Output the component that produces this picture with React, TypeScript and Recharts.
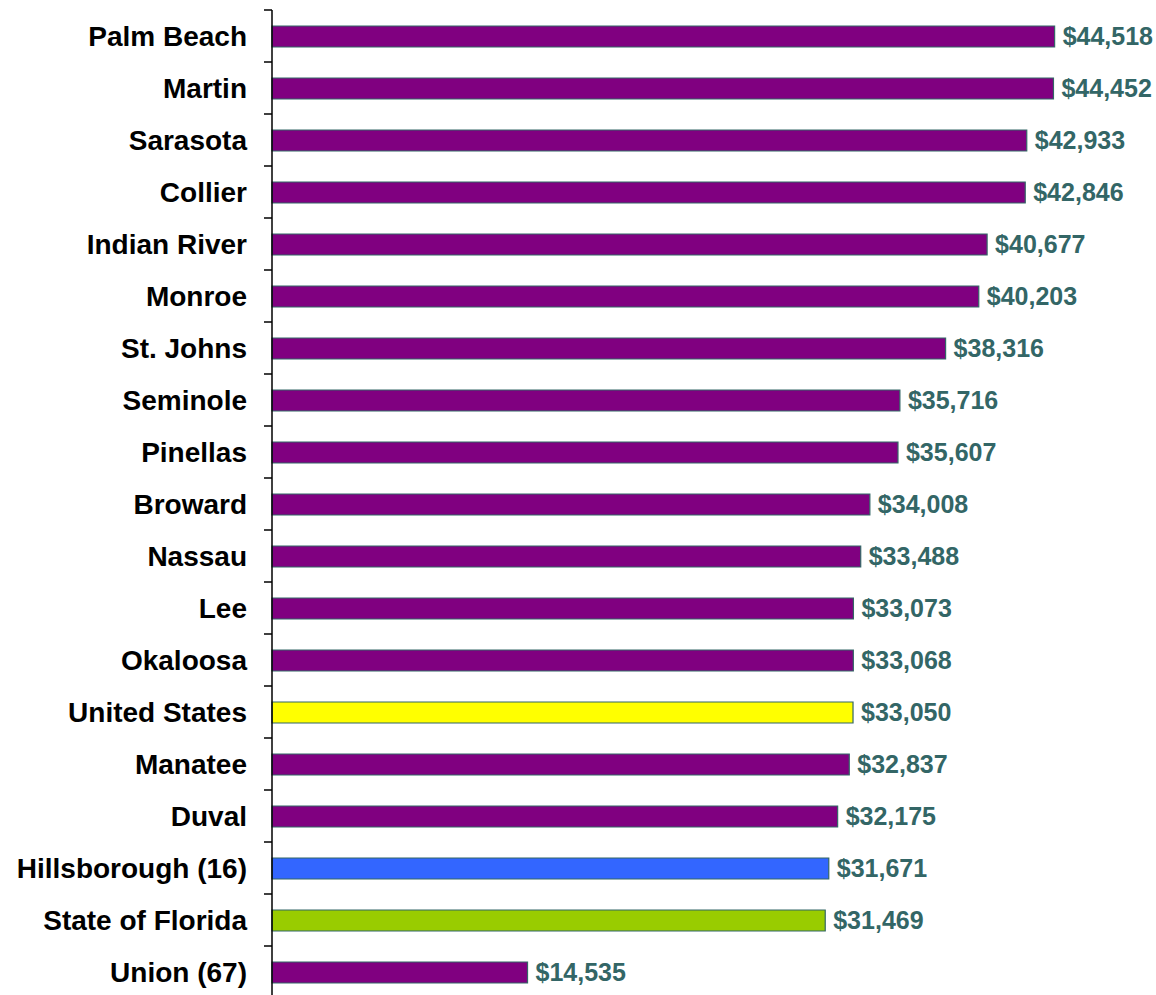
import { Bar, BarChart, Cell, LabelList, XAxis, YAxis } from "recharts";

const counties = [
  "Palm Beach",
  "Martin",
  "Sarasota",
  "Collier",
  "Indian River",
  "Monroe",
  "St. Johns",
  "Seminole",
  "Pinellas",
  "Broward",
  "Nassau",
  "Lee",
  "Okaloosa",
  "United States",
  "Manatee",
  "Duval",
  "Hillsborough (16)",
  "State of Florida",
  "Union (67)",
];
const income = [
  44518, 44452, 42933, 42846, 40677, 40203, 38316, 35716, 35607, 34008, 33488,
  33073, 33068, 33050, 32837, 32175, 31671, 31469, 14535,
];

const data = counties.map((name, i) => ({ name, income: income[i] }));

const highlight: Record<string, string> = {
  "United States": "#ffff00",
  "Hillsborough (16)": "#3366ff",
  "State of Florida": "#99cc00",
};

const W = 1156;
const H = 1000;
const MARGIN = { top: 10, right: 5, bottom: 2, left: 0 };
const BAND = (H - MARGIN.top - MARGIN.bottom) / counties.length;
const FONT = "'Liberation Sans', Arial, sans-serif";

const fmt = (v: number) => "$" + String(v).replace(/\B(?=(\d{3})+(?!\d))/g, ",");

const CountyTick = (props: any) => {
  const { x, y, payload } = props;
  const top = y - BAND / 2;
  return (
    <g>
      <line x1={x - 8} x2={x} y1={top} y2={top} stroke="#000" strokeWidth={1.5} />
      <text
        x={x - 25}
        y={y}
        textAnchor="end"
        dominantBaseline="central"
        fontFamily={FONT}
        fontWeight="bold"
        fontSize={28}
        fill="#000"
      >
        {payload.value}
      </text>
    </g>
  );
};

const App = () => {
  return (
    <div style={{ position: "absolute", left: 0, top: 0, width: W, height: 995, overflow: "hidden", background: "#fff" }}>
      <BarChart width={W} height={H} data={data} layout="vertical" margin={MARGIN}>
        <XAxis type="number" domain={[0, 50000]} hide />
        <YAxis
          type="category"
          dataKey="name"
          width={272}
          tickSize={0}
          tickMargin={0}
          tickLine={false}
          axisLine={{ stroke: "#000", strokeWidth: 1.5 }}
          tick={<CountyTick />}
          interval={0}
        />
        <Bar dataKey="income" barSize={21} stroke="#336666" strokeWidth={1.2} isAnimationActive={false}>
          {data.map((d) => (
            <Cell key={d.name} fill={highlight[d.name] ?? "#800080"} />
          ))}
          <LabelList
            dataKey="income"
            position="right"
            offset={8}
            formatter={(v: any) => fmt(Number(v))}
            style={{ fontFamily: FONT, fontWeight: "bold", fontSize: 25, fill: "#336666" }}
          />
        </Bar>
      </BarChart>
    </div>
  );
};

export default App;
